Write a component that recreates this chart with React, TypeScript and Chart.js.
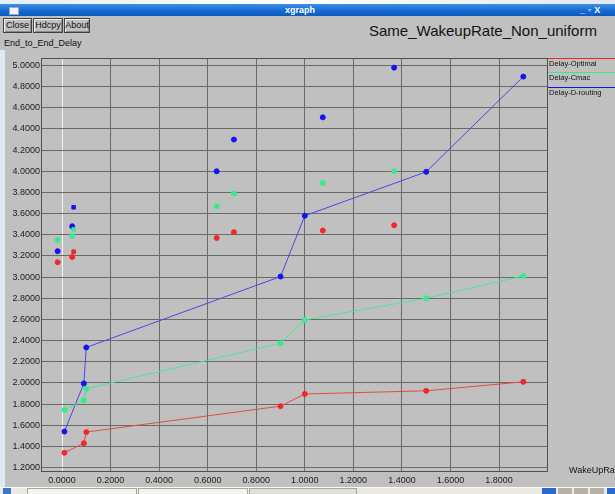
import React, { useEffect, useRef } from 'react';
import { Chart, registerables } from 'chart.js';

Chart.register(...registerables);

// ---- data ----
const rateX = [0.01, 0.09, 0.1, 0.9, 1.0, 1.5, 1.9];
const delayOptimal = [1.34, 1.43, 1.535, 1.78, 1.895, 1.925, 2.01];
const delayCmac = [1.745, 1.835, 1.945, 2.375, 2.595, 2.8, 3.01];
const delayDrouting = [1.54, 1.995, 2.335, 3.005, 3.58, 3.995, 4.895];

const extraX = [-0.018, 0.042, 0.048, 0.637, 0.708, 1.074, 1.368];
const extraOptimal = [3.14, 3.19, 3.24, 3.37, 3.425, 3.44, 3.49];
const extraCmac = [3.35, 3.39, 3.45, 3.67, 3.79, 3.89, 4.0];
const extraDrouting = [3.245, 3.48, 3.66, 4.0, 4.3, 4.51, 4.98];
const extraMarkers = ['circle', 'circle', 'rect', 'circle', 'circle', 'circle', 'circle'];

const xTicks = [0, 0.2, 0.4, 0.6, 0.8, 1.0, 1.2, 1.4, 1.6, 1.8];
const yTicks = [1.2, 1.4, 1.6, 1.8, 2.0, 2.2, 2.4, 2.6, 2.8, 3.0, 3.2, 3.4, 3.6, 3.8, 4.0, 4.2, 4.4, 4.6, 4.8, 5.0];

const seriesNames = ['Delay-Optimal', 'Delay-Cmac', 'Delay-D-routing'];
const titleText = 'Same_WakeupRate_Non_uniform';
const yAxisTitle = 'End_to_End_Delay';
const xAxisTitle = 'WakeUpRat';

const RED = '#f02828';
const GREEN = '#34ec8c';
const BLUE = '#1414f0';
const RED_LINE = '#e84848';
const GREEN_LINE = '#48e898';
const BLUE_LINE = '#4848e8';

const pts = (xs: number[], ys: number[]) => xs.map((x, i) => ({ x, y: ys[i] }));

const framePlugin = {
  id: 'frame',
  afterDraw(chart: any) {
    const { ctx, chartArea } = chart;
    ctx.save();
    ctx.strokeStyle = '#505050';
    ctx.lineWidth = 1;
    ctx.strokeRect(
      Math.round(chartArea.left) + 0.5,
      Math.round(chartArea.top) + 0.5,
      Math.round(chartArea.right - chartArea.left),
      Math.round(chartArea.bottom - chartArea.top)
    );
    ctx.restore();
  },
};

export default function App() {
  const ref = useRef<HTMLCanvasElement | null>(null);

  useEffect(() => {
    if (!ref.current) return;
    const mk = (label: string, xs: number[], ys: number[], c: string, lc: string, line: boolean, styles?: string[]) => ({
      label,
      data: pts(xs, ys),
      borderColor: lc,
      backgroundColor: c,
      pointBackgroundColor: c,
      pointBorderColor: c,
      pointRadius: 2.5,
      pointStyle: styles ? (styles as any) : 'circle',
      borderWidth: 1,
      showLine: line,
      tension: 0,
    });
    const chart = new Chart(ref.current, {
      type: 'scatter',
      data: {
        datasets: [
          mk(seriesNames[0], rateX, delayOptimal, RED, RED_LINE, true),
          mk(seriesNames[1], rateX, delayCmac, GREEN, GREEN_LINE, true),
          mk(seriesNames[2], rateX, delayDrouting, BLUE, BLUE_LINE, true),
          mk(seriesNames[0] + ' marks', extraX, extraOptimal, RED, RED, false, extraMarkers),
          mk(seriesNames[1] + ' marks', extraX, extraCmac, GREEN, GREEN, false, extraMarkers),
          mk(seriesNames[2] + ' marks', extraX, extraDrouting, BLUE, BLUE, false, extraMarkers),
        ] as any,
      },
      options: {
        animation: false,
        responsive: false,
        devicePixelRatio: 1,
        layout: { padding: { top: 58, right: 68, left: 0, bottom: 0 } },
        plugins: { legend: { display: false }, tooltip: { enabled: false } },
        scales: {
          x: {
            type: 'linear',
            min: -0.0865,
            max: 1.9975,
            afterBuildTicks: (s: any) => {
              s.ticks = xTicks.map((v) => ({ value: v }));
            },
            afterFit: (s: any) => {
              s.height = 23;
            },
            grid: {
              color: (c: any) => (c.tick && c.tick.value === 0 ? '#f4f4f4' : '#6a6a6a'),
              lineWidth: 1,
              drawTicks: false,
            },
            border: { display: false },
            ticks: {
              padding: 4,
              maxRotation: 0,
              autoSkip: false,
              color: '#1a1a1a',
              font: { family: 'Liberation Sans', size: 9 },
              callback: (v: any) => Number(v).toFixed(4),
            },
          },
          y: {
            type: 'linear',
            min: 1.167,
            max: 5.071,
            afterBuildTicks: (s: any) => {
              s.ticks = yTicks.map((v) => ({ value: v }));
            },
            afterFit: (s: any) => {
              s.width = 41;
            },
            grid: { color: '#6a6a6a', lineWidth: 1, drawTicks: false },
            border: { display: false },
            ticks: {
              padding: 1,
              autoSkip: false,
              color: '#1a1a1a',
              font: { family: 'Liberation Sans', size: 9 },
              callback: (v: any) => Number(v).toFixed(4),
            },
          },
        },
      } as any,
      plugins: [framePlugin],
    });
    return () => chart.destroy();
  }, []);

  const btn = (label: string, left: number, width: number) => (
    <div
      key={label}
      style={{
        position: 'absolute',
        left,
        top: 18,
        width,
        height: 15,
        boxSizing: 'border-box',
        border: '1px solid #404040',
        boxShadow: 'inset 1px 1px 0 #f0f0f0, inset -1px -1px 0 #8a8a8a',
        fontSize: 9,
        lineHeight: '13px',
        textAlign: 'center',
        color: '#111',
      }}
    >
      {label}
    </div>
  );

  const legendColors = [RED, GREEN, BLUE];
  const legendTops = [58, 72, 87];

  return (
    <div
      style={{
        position: 'absolute',
        left: 0,
        top: 0,
        width: 615,
        height: 494,
        overflow: 'hidden',
        background: '#c0c0c0',
        fontFamily: 'Liberation Sans, Arial, sans-serif',
      }}
    >
      {/* title bar */}
      <div style={{ position: 'absolute', left: 0, top: 0, width: 615, height: 4, background: 'linear-gradient(90deg,#e6eef8,#ffffff 50%,#dfe9f5)' }} />
      <div
        style={{
          position: 'absolute',
          left: 0,
          top: 4,
          width: 615,
          height: 12,
          background: 'linear-gradient(180deg,#3f8fe6,#1468cf 60%,#0c5cc0)',
        }}
      />
      <div style={{ position: 'absolute', left: 9, top: 7, width: 8, height: 6, background: '#f4f4f4', border: '1px solid #9ab' }} />
      <div style={{ position: 'absolute', left: 0, top: 4, width: 600, height: 12, textAlign: 'center', color: '#fff', fontWeight: 'bold', fontSize: 9, lineHeight: '12px' }}>xgraph</div>
      <div style={{ position: 'absolute', left: 580, top: 4, width: 35, height: 12, color: '#fff', fontSize: 9, lineHeight: '12px', letterSpacing: 3, fontWeight: 'bold' }}>_▫X</div>

      {/* left window edge */}
      <div style={{ position: 'absolute', left: 0, top: 50, width: 5, height: 437, background: '#dde8f2' }} />

      {btn('Close', 3, 29)}
      {btn('Hdcpy', 33, 30)}
      {btn('About', 64, 26)}

      <div style={{ position: 'absolute', left: 4, top: 37, fontSize: 9, lineHeight: '12px', color: '#111' }}>{yAxisTitle}</div>
      <div style={{ position: 'absolute', left: 369, top: 22, fontSize: 15, lineHeight: '18px', color: '#111' }}>{titleText}</div>

      <canvas ref={ref} width={615} height={494} style={{ position: 'absolute', left: 0, top: 0, width: 615, height: 494 }} />

      {/* xgraph legend */}
      {seriesNames.map((n, i) => (
        <React.Fragment key={n}>
          <div style={{ position: 'absolute', left: 548, top: legendTops[i], width: 67, height: 1, background: legendColors[i] }} />
          <div style={{ position: 'absolute', left: 549, top: legendTops[i] + 1, fontSize: 7.5, lineHeight: '10px', color: '#111', whiteSpace: 'nowrap' }}>{n}</div>
        </React.Fragment>
      ))}

      <div style={{ position: 'absolute', left: 569, top: 464, fontSize: 9, lineHeight: '12px', color: '#111', whiteSpace: 'nowrap' }}>{xAxisTitle}</div>

      {/* taskbar */}
      <div style={{ position: 'absolute', left: 0, top: 487, width: 615, height: 7, background: '#ece9e2', borderTop: '1px solid #fafafa' }} />
      <div style={{ position: 'absolute', left: 3, top: 488, width: 8, height: 6, background: '#3a78c8' }} />
      <div style={{ position: 'absolute', left: 27, top: 488, width: 108, height: 6, border: '1px solid #a8a8a0', borderBottom: 'none', background: '#f4f3ef' }} />
      <div style={{ position: 'absolute', left: 138, top: 488, width: 108, height: 6, border: '1px solid #a8a8a0', borderBottom: 'none', background: '#f4f3ef' }} />
      <div style={{ position: 'absolute', left: 249, top: 488, width: 106, height: 6, border: '1px solid #a8a8a0', borderBottom: 'none', background: '#e2dfd8' }} />
      <div style={{ position: 'absolute', left: 542, top: 488, width: 14, height: 6, background: '#2a6ad0' }} />
      <div style={{ position: 'absolute', left: 558, top: 488, width: 14, height: 6, background: '#b8b0a4' }} />
      <div style={{ position: 'absolute', left: 574, top: 488, width: 14, height: 6, background: '#b8b0a4' }} />
      <div style={{ position: 'absolute', left: 590, top: 488, width: 14, height: 6, background: '#b8b0a4' }} />
      <div style={{ position: 'absolute', left: 607, top: 488, width: 8, height: 6, background: '#2a6ad0' }} />
    </div>
  );
}
